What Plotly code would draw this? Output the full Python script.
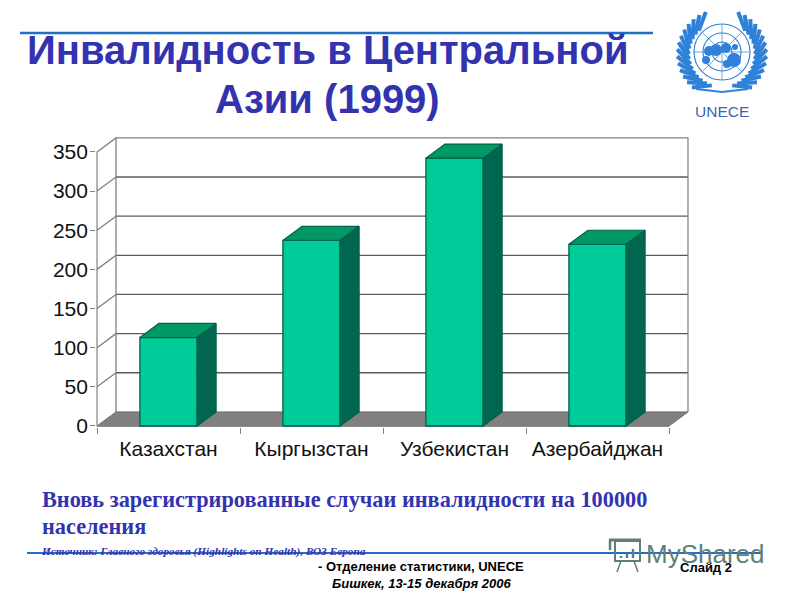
import math
import plotly.graph_objects as go

categories = ['Казахстан', 'Кыргызстан', 'Узбекистан', 'Азербайджан']
values = [113, 237, 342, 232]
y_ticks = [0, 50, 100, 150, 200, 250, 300, 350]
x_centers = [0.5, 1.5, 2.5, 3.5]
x_edges = [0, 1, 2, 3, 4]

W, H = 800, 600
BAR_W = 0.4
DX, DY = 0.133, 18  # depth of the fake 3D, in axis units
PAD_X, PAD_Y = 0.006, 1.2  # keeps edge lines from being clipped
UX, UY = 143.0, 0.783  # pixels per axis unit
X0, Y0 = 97, 426  # pixel position of the origin

FRONT = '#00CC99'
TOP = '#009966'
SIDE = '#006650'
EDGE = '#00634C'
GRID = '#5A5A5A'
AXIS = '#808080'
BLUE = '#3333B0'
RULE = '#1F6FC4'
LOGO = '#2F80D8'


def px(x):
    return x / W


def py(y):
    return 1 - y / H


x_range = [-PAD_X, 4 + DX + PAD_X]
y_range = [-PAD_Y, 350 + DY + PAD_Y]
x_domain = [px(X0 + x_range[0] * UX), px(X0 + x_range[1] * UX)]
y_domain = [py(Y0 - y_range[0] * UY), py(Y0 - y_range[1] * UY)]

fig = go.Figure()


def wall_line(xs, ys, color=AXIS, width=1.3):
    fig.add_trace(go.Scatter(x=xs, y=ys, mode='lines', line=dict(color=color, width=width), hoverinfo='skip'))


# base subplot (xy): walls, floor, grid, all under the bars
grid_x, grid_y, diag_x, diag_y = [], [], [], []
for v in y_ticks[1:-1]:
    grid_x += [DX, 4 + DX, None]
    grid_y += [v + DY, v + DY, None]
for v in y_ticks[1:]:
    diag_x += [0, DX, None]
    diag_y += [v, v + DY, None]
wall_line(grid_x, grid_y, GRID)
wall_line(diag_x, diag_y)
wall_line([0, 0], [0, 350])
wall_line([DX, DX, 4 + DX, 4 + DX], [DY, 350 + DY, 350 + DY, DY])
fig.add_trace(go.Scatter(x=[0, 4, 4 + DX, DX, 0], y=[0, 0, DY, DY, 0], mode='lines', fill='toself',
                         fillcolor='#808080', line=dict(color='#707070', width=1), hoverinfo='skip'))
wall_line([0, 4], [0, 0])

# bars on the top subplot (x2y2), same scales as the base one
fig.add_trace(go.Bar(x=x_centers, y=values, width=BAR_W, xaxis='x2', yaxis='y2',
                     marker=dict(color=FRONT, line=dict(color=EDGE, width=1.3))))

for c, v in zip(x_centers, values):
    l, r = c - BAR_W / 2, c + BAR_W / 2
    fig.add_trace(go.Scatter(x=[l, l + DX, r + DX, r, l], y=[v, v + DY, v + DY, v, v],
                             xaxis='x2', yaxis='y2', mode='lines', fill='toself', fillcolor=TOP,
                             line=dict(color=EDGE, width=1.2), hoverinfo='skip'))
    fig.add_trace(go.Scatter(x=[r, r + DX, r + DX, r, r], y=[0, DY, v + DY, v, 0],
                             xaxis='x2', yaxis='y2', mode='lines', fill='toself', fillcolor=SIDE,
                             line=dict(color=EDGE, width=1.2), hoverinfo='skip'))

shapes = [
    dict(type='line', xref='paper', yref='paper', x0=px(20), x1=px(653), y0=py(33), y1=py(33),
         line=dict(color=RULE, width=2.5)),
    dict(type='line', xref='paper', yref='paper', x0=px(27), x1=px(762), y0=py(553), y1=py(553),
         line=dict(color=RULE, width=2)),
]


def logo_line(x0, y0, x1, y1, width=1.0, color=LOGO):
    shapes.append(dict(type='line', xref='paper', yref='paper', x0=px(x0), x1=px(x1),
                       y0=py(y0), y1=py(y1), line=dict(color=color, width=width)))


def logo_circle(cx, cy, r, width=1.0, fill=None, color=LOGO):
    shapes.append(dict(type='circle', xref='paper', yref='paper', x0=px(cx - r), x1=px(cx + r),
                       y0=py(cy - r), y1=py(cy + r), line=dict(color=color, width=width),
                       fillcolor=fill))


# UN emblem, roughly
LX, LY = 722, 52
for r in (28, 19, 10):
    logo_circle(LX, LY, r, 1.1)
for a in range(0, 180, 45):
    ca, sa = math.cos(math.radians(a)), math.sin(math.radians(a))
    logo_line(LX - 28 * ca, LY - 28 * sa, LX + 28 * ca, LY + 28 * sa, 0.7)
for bx, by, br in [(709, 51, 5), (716, 50, 6), (726, 48, 5), (734, 60, 7), (727, 64, 4), (706, 60, 4), (735, 47, 3)]:
    logo_circle(bx, by, br, 0, fill=LOGO)
# laurel leaves, slanted along the ring
for a in range(-45, 80, 9):
    for side in (-1, 1):
        rad = math.radians(a)
        x0 = LX + side * 33 * math.cos(rad)
        y0 = LY + 2 + 33 * math.sin(rad)
        rad2 = math.radians(a - 24)
        x1 = LX + side * 45 * math.cos(rad2)
        y1 = LY + 2 + 45 * math.sin(rad2)
        logo_line(x0, y0, x1, y1, 4)
logo_line(696, 89, 722, 92, 2.2)
logo_line(748, 89, 722, 92, 2.2)

# MyShared mark
MS = '#5F7F7C'
shapes.append(dict(type='rect', xref='paper', yref='paper', x0=px(615), x1=px(640), y0=py(541), y1=py(561),
                   line=dict(color=MS, width=2)))
logo_line(609, 540, 641, 540, 3, MS)
logo_line(610, 540, 610, 550, 2.5, MS)
logo_line(621, 561, 617, 572, 1.5, MS)
logo_line(634, 561, 638, 572, 1.5, MS)
for bx, bt in [(621, 556), (627, 554), (633, 549)]:
    logo_line(bx, 558, bx, bt, 2.5, MS)


def label(text, x, y, size, color='#000000', family='Liberation Sans', anchor='center'):
    return dict(text=text, xref='paper', yref='paper', x=px(x), y=py(y), showarrow=False,
                xanchor=anchor, yanchor='middle', font=dict(family=family, size=size, color=color))


SERIF = 'Liberation Serif'
annotations = [
    label('<b>Инвалидность в Центральной</b>', 327, 50, 40, BLUE),
    label('<b>Азии (1999)</b>', 327, 99, 40, BLUE),
    label('<b>Вновь зарегистрированные случаи инвалидности на 100000</b>', 40, 499, 22.3, BLUE, SERIF, 'left'),
    label('<b>населения</b>', 40, 526, 22.3, BLUE, SERIF, 'left'),
    label('<b><i>Источник: Главного здоровья (Highlights on Health), ВОЗ Европа</i></b>', 39, 551, 11.3, BLUE, SERIF, 'left'),
    label('MyShared', 705, 554, 26, MS),
    label('<b>- Отделение статистики, UNECE</b>', 421, 566, 13),
    label('<b><i>Бишкек, 13-15 декабря 2006</i></b>', 421, 583, 13),
    label('<b>Слайд 2</b>', 706, 567, 13),
    label('UNECE', 722, 112, 15.5, '#3A66B0'),
]

tick_font = dict(family='Liberation Sans', size=21, color='#111111')
fig.update_layout(
    template='none', width=W, height=H, margin=dict(l=0, r=0, t=0, b=0, autoexpand=False),
    paper_bgcolor='white', plot_bgcolor='rgba(0,0,0,0)', showlegend=False,
    shapes=shapes, annotations=annotations,
    xaxis=dict(domain=x_domain, range=x_range, visible=False),
    yaxis=dict(domain=y_domain, range=y_range, visible=False),
    # top axes carry the labels
    xaxis2=dict(domain=x_domain, range=x_range, anchor='y2', showgrid=False, zeroline=False, showline=False,
                tickvals=x_centers, ticktext=categories, ticks='', tickfont=tick_font, ticklabelstandoff=7,
                minor=dict(tickvals=x_edges, ticks='outside', ticklen=6, tickcolor=AXIS, tickwidth=1.3)),
    yaxis2=dict(domain=y_domain, range=y_range, anchor='x2', showgrid=False, zeroline=False, showline=False,
                tickvals=y_ticks, ticks='outside', ticklen=5, tickcolor=AXIS, tickwidth=1.3, tickfont=tick_font,
                ticklabelstandoff=-2),
)

fig.write_html("out.html", config=dict(displayModeBar=False), post_script="document.body.style.margin='0';")
